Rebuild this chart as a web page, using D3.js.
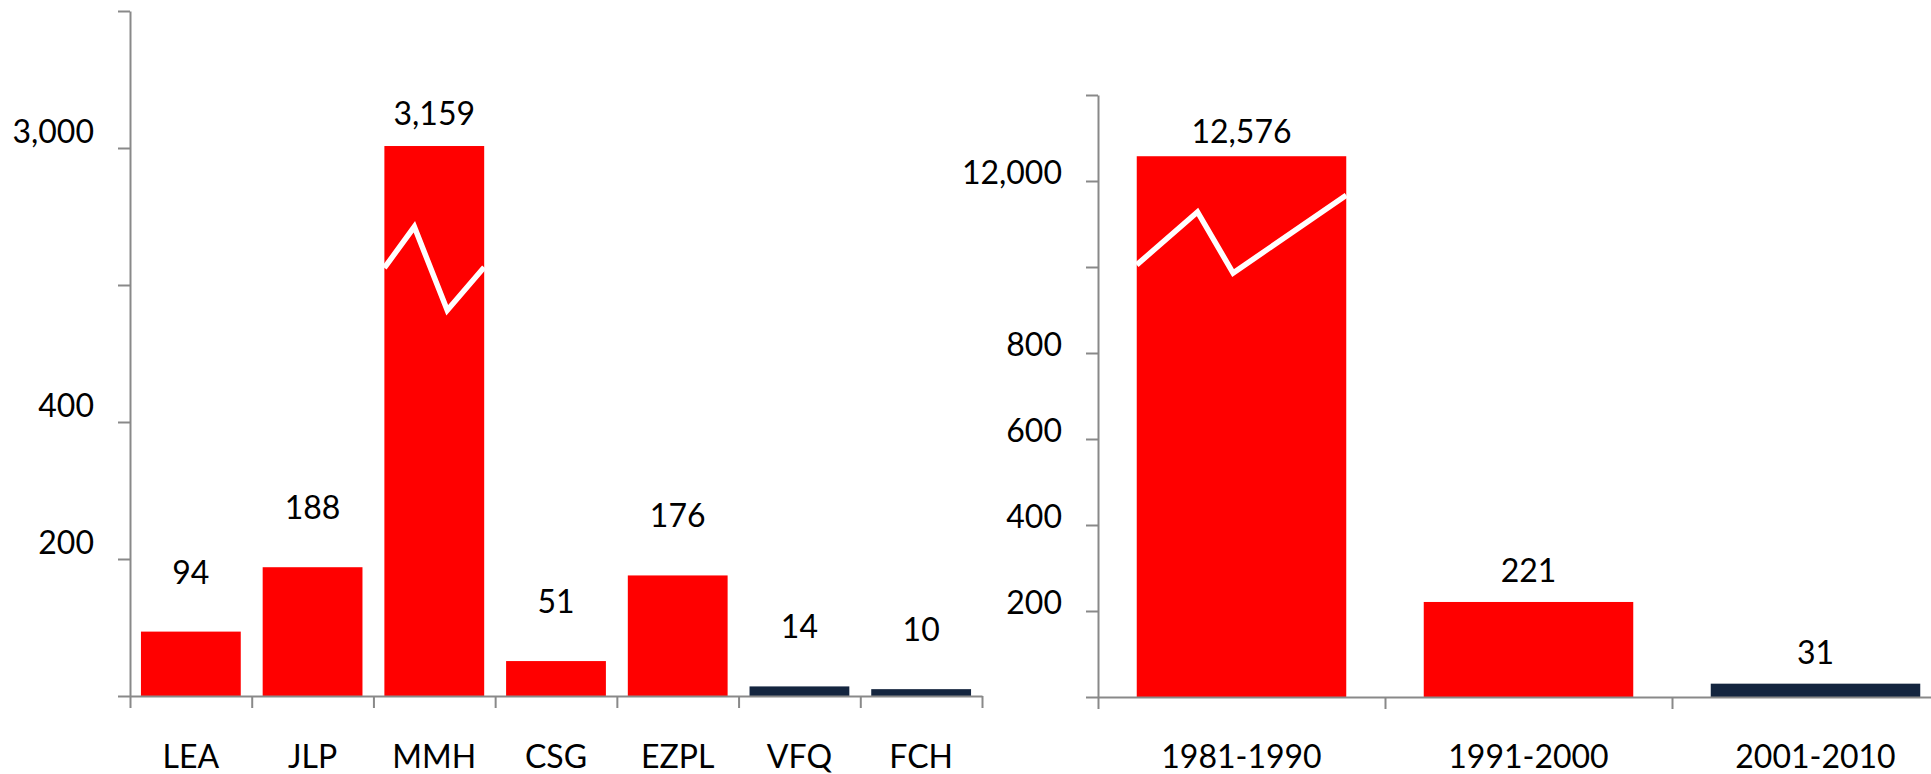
<!DOCTYPE html>
<html>
<head>
<meta charset="utf-8">
<script src="https://cdn.jsdelivr.net/npm/d3@7"></script>
<style>
  body { margin: 0; background: #fff; }
  text { font-family: Lato, "Open Sans", sans-serif; font-size: 32px; fill: #000; }
</style>
</head>
<body>
<script>
// data
const leftCats = ["LEA", "JLP", "MMH", "CSG", "EZPL", "VFQ", "FCH"];
const leftValues = [94, 188, 3159, 51, 176, 14, 10];
const leftTickValues = [0, 200, 400, 600, 3000, 14000];
const leftTickLabels = ["", "200", "400", "", "3,000", ""];

const rightCats = ["1981-1990", "1991-2000", "2001-2010"];
const rightValues = [12576, 221, 31];
const rightTickValues = [0, 200, 400, 600, 800, 1000, 12000, 14000];
const rightTickLabels = ["", "200", "400", "600", "800", "", "12,000", ""];

const navyCats = ["VFQ", "FCH", "2001-2010"];

const W = 1931, H = 774;
const RED = "#ff0000", NAVY = "#14253f", AXIS = "#898989";

const svg = d3.select("body").append("svg").attr("width", W).attr("height", H);

// panel settings (broken axis : domain -> position units on a plain linear axis)
const panels = [
  {
    cats: leftCats, values: leftValues, ticks: leftTickValues, tickLabels: leftTickLabels,
    x0: 130, x1: 982, base: 696, top: 11, posMax: 1000,
    breakDomain: [0, 700, 3000, 14000], breakPos: [0, 700, 800, 1000],
    pad: 0.18, labelGap: 48, brokenLabelGap: 21, tickLabelShift: -18,
    zig: { fx: [0, 0.3, 0.63, 1], pos: [625, 685, 563, 626] }
  },
  {
    cats: rightCats, values: rightValues, ticks: rightTickValues, tickLabels: rightTickLabels,
    x0: 1098, x1: 1959, base: 697, top: 95, posMax: 1400,
    breakDomain: [0, 1000, 12000, 14000], breakPos: [0, 1000, 1200, 1400],
    pad: 0.27, labelGap: 20, brokenLabelGap: 13, tickLabelShift: -10,
    zig: { fx: [0, 0.29, 0.46, 1], pos: [1005, 1128, 986, 1167] }
  }
];

panels.forEach(p => {
  const g = svg.append("g");

  const pos = d3.scaleLinear().domain([0, p.posMax]).range([p.base, p.top]);
  const y = d3.scaleLinear().domain(p.breakDomain).range(p.breakPos.map(pos));

  const x = d3.scaleBand().domain(p.cats).range([p.x0, p.x1])
    .paddingInner(p.pad).paddingOuter(p.pad / 2);

  // bars
  g.selectAll("rect.bar")
    .data(p.cats.map((c, i) => ({ c, v: p.values[i] })))
    .enter().append("rect")
    .attr("class", "bar")
    .attr("x", d => x(d.c))
    .attr("y", d => y(d.v))
    .attr("width", x.bandwidth())
    .attr("height", d => p.base - y(d.v))
    .attr("fill", d => navyCats.includes(d.c) ? NAVY : RED);

  // break zigzag on the tall bar
  const broken = p.values.map((v, i) => ({ c: p.cats[i], v })).filter(d => d.v > p.breakDomain[2]);
  broken.forEach(d => {
    const pts = p.zig.fx.map((f, k) => [x(d.c) + f * x.bandwidth(), pos(p.zig.pos[k])]);
    g.append("path")
      .attr("d", d3.line()(pts))
      .attr("fill", "none")
      .attr("stroke", "#fff")
      .attr("stroke-width", 5.5);
  });

  // value labels
  g.selectAll("text.val")
    .data(p.cats.map((c, i) => ({ c, v: p.values[i] })))
    .enter().append("text")
    .attr("class", "val")
    .attr("x", d => x(d.c) + x.bandwidth() / 2)
    .attr("y", d => y(d.v) - (d.v > p.breakDomain[2] ? p.brokenLabelGap : p.labelGap))
    .attr("text-anchor", "middle")
    .text(d => d3.format(",")(d.v));

  // y axis
  const yAxis = g.append("g")
    .attr("transform", `translate(${p.x0},0)`)
    .call(d3.axisLeft(y).tickValues(p.ticks).tickSize(12).tickSizeOuter(0).tickFormat(""));
  yAxis.select(".domain").attr("stroke", AXIS).attr("stroke-width", 2);
  yAxis.selectAll(".tick line").attr("stroke", AXIS).attr("stroke-width", 2);

  g.selectAll("text.ytl")
    .data(p.ticks.map((t, i) => ({ t, l: p.tickLabels[i] })).filter(d => d.l))
    .enter().append("text")
    .attr("class", "ytl")
    .attr("x", p.x0 - 36)
    .attr("y", d => y(d.t) + p.tickLabelShift)
    .attr("dominant-baseline", "central")
    .attr("text-anchor", "end")
    .text(d => d.l);

  // x axis, ticks between categories
  const xb = d3.scaleLinear().domain([0, p.cats.length]).range([p.x0, p.x1]);
  const xAxis = g.append("g")
    .attr("transform", `translate(0,${p.base})`)
    .call(d3.axisBottom(xb).tickValues(d3.range(p.cats.length + 1)).tickSize(12).tickSizeOuter(0).tickFormat(""));
  xAxis.select(".domain").attr("stroke", AXIS).attr("stroke-width", 2);
  xAxis.selectAll(".tick line").attr("stroke", AXIS).attr("stroke-width", 2);

  g.selectAll("text.cat")
    .data(p.cats)
    .enter().append("text")
    .attr("class", "cat")
    .attr("x", d => x(d) + x.bandwidth() / 2)
    .attr("y", 768)
    .attr("text-anchor", "middle")
    .text(d => d);
});
</script>
</body>
</html>
